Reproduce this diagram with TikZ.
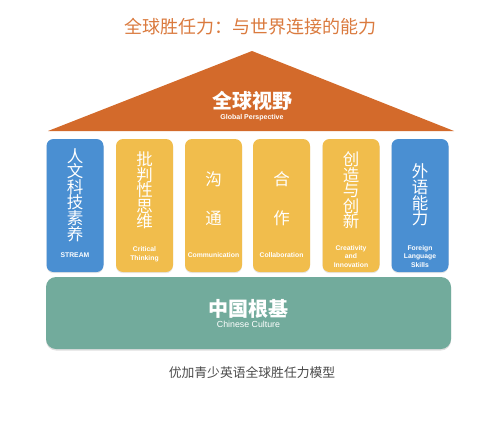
\documentclass[tikz,border=0pt]{standalone}
\usepackage{fontspec}
\newfontfamily\cjk{Noto Sans CJK SC}
\newfontfamily\lat{Liberation Sans}
\usetikzlibrary{calc,shadows}
\definecolor{roofc}{HTML}{D36A2B}
\definecolor{titlec}{HTML}{DA7A3E}
\definecolor{bluec}{HTML}{4A8FD2}
\definecolor{yellowc}{HTML}{F1BD4C}
\definecolor{tealc}{HTML}{72AB9C}
\definecolor{capc}{HTML}{4A4A4A}
\tikzset{
  pillar/.style={rounded corners=7pt, minimum width=57pt, minimum height=133pt,
    inner sep=0pt, drop shadow={opacity=0.2, shadow xshift=0pt, shadow yshift=-1.2pt}},
  zi/.style={text=white, align=center, inner sep=0pt,
    font=\cjk\fontsize{16.5}{15.6}\selectfont},
  en/.style={text=white, align=center, inner sep=0pt,
    font=\lat\bfseries\fontsize{6.8}{8.8}\selectfont}
}
\begin{document}
\begin{tikzpicture}[x=1pt,y=-1pt]
\useasboundingbox (0,0) rectangle (500,423);
% title
\node[text=titlec, font=\cjk\fontsize{18}{20}\selectfont] (title) at (250,27) {全球胜任力：与世界连接的能力};
% roof
\coordinate[] (A) at (252,51);
\coordinate[] (B) at (48,131);
\coordinate[] (C) at (454,131);
\fill[roofc] (A) -- (B) -- (C) -- cycle;
\node[text=white, font=\cjk\bfseries\fontsize{20}{22}\selectfont] (roof) at (252,101) {全球视野};
\node[text=white, font=\lat\bfseries\fontsize{7}{8}\selectfont] (roofen) at (252,118) {Global Perspective};
% pillars
\foreach \i/\x/\c/\zh/\zy/\eng/\ey in {
  1/75/bluec/{人\\文\\科\\技\\素\\养}/195/{STREAM}/255,
  2/144.5/yellowc/{批\\判\\性\\思\\维}/190.5/{Critical\\Thinking}/254,
  3/213.5/yellowc/{沟\\[23.4pt]通}/198.5/{Communication}/255,
  4/281.5/yellowc/{合\\[23.4pt]作}/198.5/{Collaboration}/255,
  5/351/yellowc/{创\\造\\与\\创\\新}/190.5/{Creativity\\and\\Innovation}/256.5,
  6/420/bluec/{外\\语\\能\\力}/195/{Foreign\\Language\\Skills}/256.5}
{
  \node[pillar, fill=\c] (p\i) at (\x,205.5) {};
  \node[zi] (z\i) at (\x,\zy) {\zh};
  \node[en] (e\i) at (\x,\ey) {\eng};
}
% base
\node[rounded corners=10pt, minimum width=405pt, minimum height=72pt, fill=tealc,
  drop shadow={opacity=0.25, shadow xshift=0pt, shadow yshift=-1.5pt}] (base) at (248.5,313) {};
\node[text=white, font=\cjk\bfseries\fontsize{20}{22}\selectfont] (basezh) at (248.5,308.5) {中国根基};
\node[text=white, font=\lat\fontsize{8.8}{10}\selectfont] (baseen) at (248.5,324.5) {Chinese Culture};
% caption
\node[text=capc, font=\cjk\fontsize{12.8}{14}\selectfont] (cap) at (252,373) {优加青少英语全球胜任力模型};
\end{tikzpicture}
\end{document}
